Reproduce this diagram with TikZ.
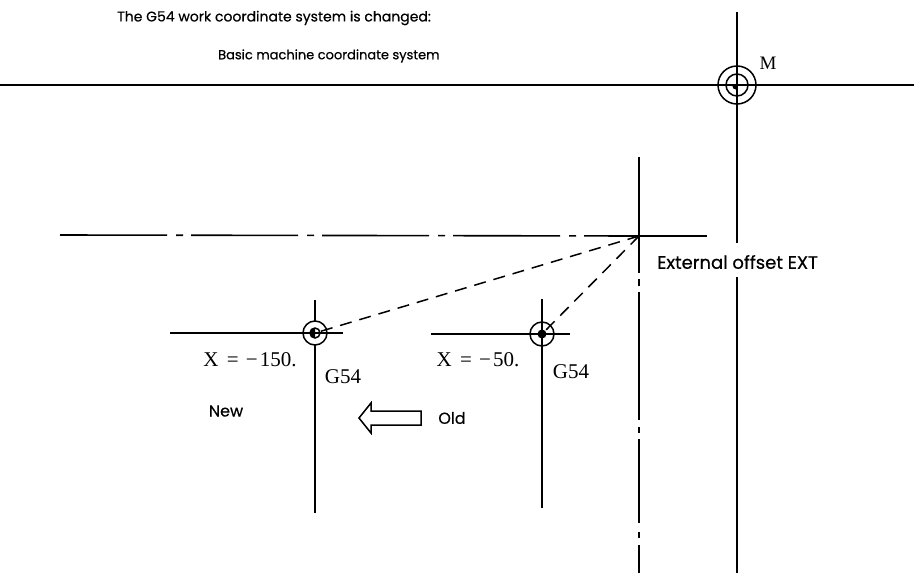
\documentclass[tikz,border=0pt]{standalone}
\usepackage{fontspec}
\setmainfont{Liberation Serif}
\newfontfamily\gothic{Poppins}[FakeBold=0.5]
\begin{document}
\begin{tikzpicture}[x=1pt,y=-1pt,
  ln/.style={line width=1.6pt},
  dashln/.style={line width=1.5pt, dash pattern=on 12pt off 8pt},
  lbl/.style={font=\gothic\fontsize{16}{18}\selectfont, inner sep=0pt},
  ser/.style={font=\fontsize{21}{23}\selectfont, inner sep=0pt},
  sym/.style={line width=1.5pt}]
\useasboundingbox (0,0) rectangle (914,573);
\coordinate (M) at (737,85);
\coordinate (E) at (639,236);
\coordinate (Gn) at (315,333);
\coordinate (Go) at (542,334);

% titles
\node[lbl, font=\gothic\fontsize{14}{16}\selectfont, anchor=west] (t1) at (117,18) {The G54 work coordinate system is changed:};
\node[lbl, font=\gothic\fontsize{13}{15}\selectfont, anchor=west] (t2) at (218,56) {Basic machine coordinate system};

% machine zero
\coordinate (Ml) at (0,85);
\coordinate (Mr) at (914,85);
\coordinate (Mt) at (737,12);
\coordinate (Mg1) at (737,243);
\coordinate (Mg2) at (737,277);
\coordinate (Mb) at (737,573);
\draw[ln] (Ml) -- (Mr);
\draw[ln] (Mt) -- (Mg1);
\draw[ln] (Mg2) -- (Mb);
\draw[sym] (M) circle (19);
\draw[sym] (M) circle (11);
\fill (M) -- ++(-5,0) arc (180:90:5) -- cycle;
\node[ser, font=\fontsize{19}{21}\selectfont, anchor=center] (Mlab) at (768,63) {M};

% external offset
\coordinate (El) at (60,235);
\coordinate (Er) at (707,236);
\coordinate (Et) at (639,157);
\coordinate (Eb) at (639,573);
\draw[ln, dash pattern=on 107pt off 9pt on 7pt off 8pt] (El) -- (E);
\draw[ln] (E) -- (Er);
\draw[ln, dash pattern=on 116pt off 6pt on 7pt off 6pt on 128pt off 7pt on 6pt off 6pt on 84pt off 9pt on 6pt off 7pt on 40pt] (Et) -- (Eb);
\node[lbl, font=\gothic\fontsize{18}{20}\selectfont, anchor=west] (ext) at (657,262) {External offset EXT};

% new G54
\coordinate (Gnl) at (170,333);
\coordinate (Gnr) at (343,333);
\coordinate (Gnt) at (315,300);
\coordinate (Gnb) at (315,513);
\draw[ln] (Gnt) -- (Gnb);
\draw[sym, fill=white] (Gn) circle (12);
\draw[sym] (Gn) circle (5);
\fill (Gn) -- ++(-5,0) arc (180:90:5) -- cycle;
\fill (Gn) -- ++(-5,0) arc (180:270:5) -- cycle;
\draw[ln] (Gnl) -- (Gnr);
\node[ser, anchor=center] (xn) at (250,360) {X\hspace{3pt} = \hspace{2pt}−\hspace{2pt}150.};
\node[ser, anchor=center] (gn) at (343,377) {G54};
\node[lbl, anchor=center] (new) at (226,411) {New};

% old G54
\coordinate (Gol) at (431,334);
\coordinate (Gor) at (570,334);
\coordinate (Got) at (542,299);
\coordinate (Gob) at (542,508);
\draw[ln] (Gol) -- (Gor);
\draw[ln] (Got) -- (Gob);
\draw[sym] (Go) circle (12);
\fill (Go) circle (4.5);
\node[ser, anchor=center] (xo) at (478,360) {X\hspace{3pt} = \hspace{2pt}−\hspace{2pt}50.};
\node[ser, anchor=center] (go) at (571,372) {G54};
\node[lbl, anchor=center] (old) at (452,418) {Old};

% arrow
\draw[line width=1.5pt, line join=miter] (359,418) -- (371,403) -- (371,411) -- (421,411) -- (421,425) -- (371,425) -- (371,433) -- cycle;

% dashed connectors
\draw[dashln] (E) -- (Gn);
\draw[dashln] (E) -- (Go);
\end{tikzpicture}
\end{document}
